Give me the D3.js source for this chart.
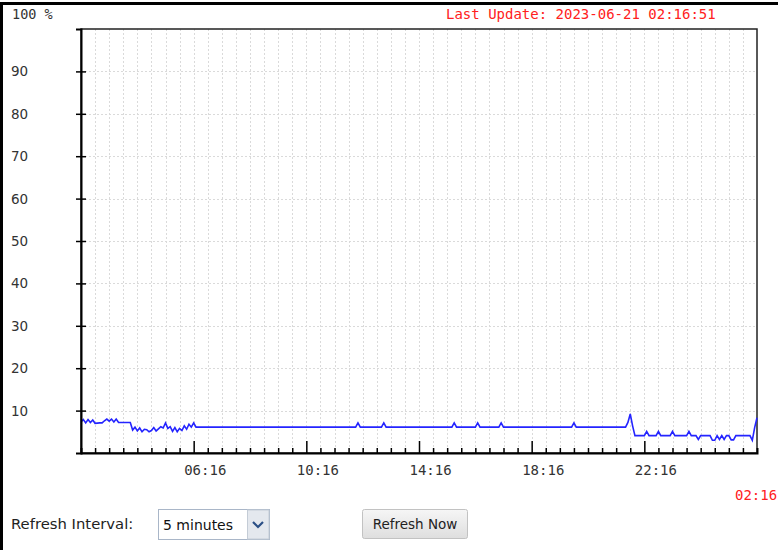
<!DOCTYPE html>
<meta charset="utf-8">
<script src="https://d3js.org/d3.v7.min.js"></script>
<style>
  body { margin: 0; background: #fff; }
  svg { display: block; }
</style>
<body>
<script>
// ---- data ----
var startDate = "2023-06-20 02:16";
var lastUpdate = "Last Update: 2023-06-21 02:16:51";
var yTicks = [10, 20, 30, 40, 50, 60, 70, 80, 90];
var majorLabels = ["06:16", "10:16", "14:16", "18:16", "22:16"];

var times = [
  "02:16","02:21","02:26","02:31","02:36","02:41","02:46","02:56","03:01","03:06",
  "03:11","03:16","03:21","03:26","03:31","03:36","04:01","04:06","04:11","04:16",
  "04:21","04:26","04:31","04:36","04:41","04:46","04:51","04:56","05:01","05:06",
  "05:11","05:16","05:21","05:26","05:31","05:36","05:41","05:46","05:51","05:56",
  "06:01","06:06","06:11","06:16","06:21","12:01","12:06","12:11","12:56","13:01",
  "13:06","15:26","15:31","15:36","16:16","16:21","16:26","17:06","17:11","17:16",
  "19:41","19:46","19:51","21:36","21:41","21:46","21:51","21:56","22:16","22:21",
  "22:26","22:41","22:46","22:51","23:11","23:16","23:21","23:46","23:51","23:56",
  "00:06","00:11","00:16","00:36","00:41","00:46","00:51","00:56","01:01","01:06",
  "01:11","01:16","01:21","01:26","01:31","02:01","02:06","02:11","02:16"
];
var values = [
  7.3, 7.9, 7.1, 7.9, 7.2, 7.8, 7.0, 7.1, 7.1, 7.6,
  8.0, 7.5, 8.0, 7.3, 8.0, 7.2, 7.2, 5.4, 6.1, 5.2,
  5.9, 5.0, 5.6, 5.5, 5.0, 5.3, 6.0, 5.2, 5.7, 6.2,
  5.9, 7.1, 5.8, 6.2, 5.1, 6.0, 5.0, 5.8, 5.3, 6.4,
  5.6, 6.8, 6.1, 7.1, 6.1, 6.1, 7.1, 6.1, 6.1, 7.1,
  6.1, 6.1, 7.1, 6.1, 6.1, 7.1, 6.1, 6.1, 7.1, 6.1,
  6.1, 7.1, 6.1, 6.1, 7.2, 9.2, 6.4, 4.1, 4.1, 5.1,
  4.1, 4.1, 5.1, 4.1, 4.1, 5.1, 4.1, 4.1, 5.1, 4.1,
  4.1, 3.2, 4.1, 4.1, 3.0, 3.0, 4.1, 3.2, 4.1, 3.2,
  4.1, 4.1, 3.1, 3.1, 4.1, 4.1, 3.0, 6.0, 8.3
];

window.onload = function() {

  // ---- layout ----
  var W = 778, H = 550;
  var pLeft = 81, pRight = 757, pTop = 29, pBottom = 453;
  var mono = "'DejaVu Sans Mono', monospace";
  var sans = "'DejaVu Sans', sans-serif";

  var parseFull = d3.timeParse("%Y-%m-%d %H:%M");
  var t0 = parseFull(startDate);
  var t1 = d3.timeHour.offset(t0, 24);

  // turn HH:MM into dates, rolling over midnight
  var data = [];
  var day = 0, prev = -1;
  times.forEach(function(s, i) {
    var p = s.split(":");
    var tod = +p[0] * 60 + +p[1];
    if (i > 0 && tod <= prev) day++;
    prev = tod;
    var d = new Date(t0.getFullYear(), t0.getMonth(), t0.getDate() + day, +p[0], +p[1]);
    data.push({ t: d, v: values[i] });
  });

  var x = d3.scaleTime().domain([t0, t1]).range([pLeft, pRight]);
  var y = d3.scaleLinear().domain([0, 100]).range([pBottom, pTop]);

  var svg = d3.select("body").append("svg")
    .attr("width", W)
    .attr("height", H);

  // outer frame (top + left edges only)
  svg.append("line").attr("x1", 0).attr("x2", W).attr("y1", 3.5).attr("y2", 3.5)
    .style("stroke", "#000").style("stroke-width", 3);
  svg.append("line").attr("x1", 1.5).attr("x2", 1.5).attr("y1", 2).attr("y2", H)
    .style("stroke", "#000").style("stroke-width", 3);

  // 30 minute ticks
  var xTickVals = d3.range(1, 48).map(function(i) { return d3.timeMinute.offset(t0, i * 30); });
  var fmt = d3.timeFormat("%H:%M");

  // grid
  svg.append("g").selectAll("line")
    .data(xTickVals)
    .enter().append("line")
      .attr("x1", function(d) { return Math.round(x(d)) + 0.5; })
      .attr("x2", function(d) { return Math.round(x(d)) + 0.5; })
      .attr("y1", pTop).attr("y2", pBottom)
      .style("stroke", "#dadada")
      .style("stroke-dasharray", "2,2");

  svg.append("g").selectAll("line")
    .data(yTicks)
    .enter().append("line")
      .attr("x1", pLeft).attr("x2", pRight)
      .attr("y1", function(d) { return Math.round(y(d)) + 0.5; })
      .attr("y2", function(d) { return Math.round(y(d)) + 0.5; })
      .style("stroke", "#dadada")
      .style("stroke-dasharray", "2,2");

  // plot frame
  svg.append("rect")
    .attr("x", pLeft).attr("y", pTop)
    .attr("width", pRight - pLeft).attr("height", pBottom - pTop)
    .style("fill", "none")
    .style("stroke", "#222")
    .style("stroke-width", 1.5);

  // the series
  var line = d3.line()
    .x(function(d) { return x(d.t); })
    .y(function(d) { return y(d.v); });

  svg.append("path")
    .datum(data)
    .attr("d", line)
    .style("fill", "none")
    .style("stroke", "#2424ff")
    .style("stroke-width", 1.6);

  // x axis (ticks pointing inward)
  var xAxis = d3.axisBottom(x)
    .tickValues(xTickVals)
    .tickSize(-5)
    .tickFormat("");
  var gx = svg.append("g")
    .attr("transform", "translate(0," + pBottom + ")")
    .call(xAxis);
  gx.select(".domain").style("stroke", "#000").style("stroke-width", 2);
  gx.selectAll(".tick line")
    .style("stroke", "#000")
    .style("stroke-width", 1.5)
    .attr("y2", function(d) { return majorLabels.indexOf(fmt(d)) >= 0 ? -12 : -5; });
  gx.selectAll(".tick")
    .filter(function(d) { return majorLabels.indexOf(fmt(d)) >= 0; })
    .append("text")
      .attr("x", -10)
      .attr("y", 22)
      .attr("text-anchor", "start")
      .style("fill", "#333")
      .style("font-family", mono)
      .style("font-size", "14px")
      .text(function(d) { return fmt(d); });

  // last time label at the right
  svg.append("text")
    .attr("x", 735).attr("y", 500)
    .style("fill", "#ff2020")
    .style("font-family", mono)
    .style("font-size", "14px")
    .text(fmt(t1));

  // y axis
  var yAxis = d3.axisLeft(y).tickValues(yTicks).tickSize(5).tickFormat("");
  var gy = svg.append("g")
    .attr("transform", "translate(" + pLeft + ",0)")
    .call(yAxis);
  gy.select(".domain").style("stroke", "#000").style("stroke-width", 2);
  gy.selectAll(".tick line").attr("x2", -5).attr("x1", 5)
    .style("stroke", "#000").style("stroke-width", 1.5);

  svg.append("g").selectAll("text")
    .data(yTicks)
    .enter().append("text")
      .attr("x", 11)
      .attr("y", function(d) { return y(d) + 5; })
      .style("fill", "#333")
      .style("font-family", sans)
      .style("font-size", "13.5px")
      .text(function(d) { return d; });

  svg.append("text")
    .attr("x", 12).attr("y", 19)
    .style("fill", "#333")
    .style("font-family", mono)
    .style("font-size", "13.5px")
    .text("100 %");

  // last update
  svg.append("text")
    .attr("x", 446).attr("y", 19)
    .style("fill", "#ff2020")
    .style("font-family", mono)
    .style("font-size", "14px")
    .text(lastUpdate);

  // controls under the chart
  svg.append("text")
    .attr("x", 11).attr("y", 529)
    .style("fill", "#222")
    .style("font-family", sans)
    .style("font-size", "14.8px")
    .text("Refresh Interval:");

  var sel = svg.append("g");
  sel.append("rect")
    .attr("x", 158.5).attr("y", 509.5).attr("width", 111).attr("height", 30)
    .style("fill", "#fff").style("stroke", "#a9b6c8");
  sel.append("rect")
    .attr("x", 247.5).attr("y", 510).attr("width", 21.5).attr("height", 29)
    .style("fill", "#e4e8ee").style("stroke", "#c4ccd6");
  sel.append("path")
    .attr("d", "M253,522 L258,527 L263,522")
    .style("fill", "none").style("stroke", "#2b4f86").style("stroke-width", 2.2);
  sel.append("text")
    .attr("x", 163).attr("y", 530)
    .style("fill", "#111")
    .style("font-family", sans)
    .style("font-size", "14px")
    .text("5 minutes");

  var grad = svg.append("defs").append("linearGradient")
    .attr("id", "btn").attr("x1", 0).attr("x2", 0).attr("y1", 0).attr("y2", 1);
  grad.append("stop").attr("offset", 0).attr("stop-color", "#f6f6f6");
  grad.append("stop").attr("offset", 1).attr("stop-color", "#dedede");

  svg.append("rect")
    .attr("x", 362.5).attr("y", 509.5).attr("width", 105).attr("height", 29).attr("rx", 2)
    .style("fill", "url(#btn)").style("stroke", "#c2c2c2");
  svg.append("text")
    .attr("x", 415).attr("y", 529)
    .attr("text-anchor", "middle")
    .style("fill", "#222")
    .style("font-family", sans)
    .style("font-size", "13.5px")
    .text("Refresh Now");
};
</script>
</body>
